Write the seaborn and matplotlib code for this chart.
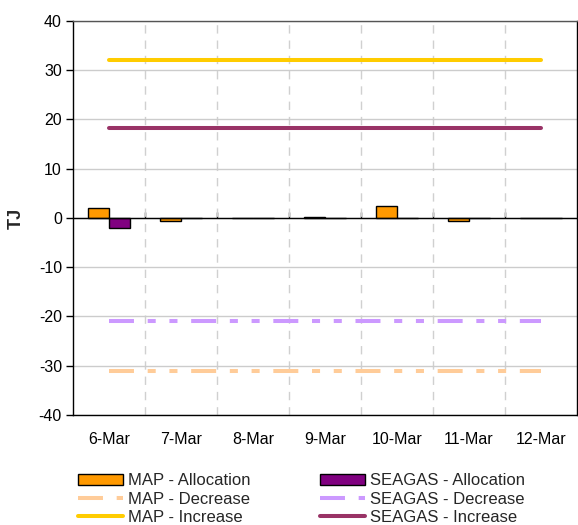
#%% import libraries
import numpy as np
import pandas as pd
import seaborn as sns
import matplotlib.pyplot as plt
from matplotlib.patches import Patch

#%% data
dates = ['6-Mar', '7-Mar', '8-Mar', '9-Mar', '10-Mar', '11-Mar', '12-Mar']
map_alloc = [2.0, -0.7, 0.0, 0.3, 2.5, -0.7, 0.0]
seagas_alloc = [-2.0, 0.0, 0.0, 0.0, 0.0, 0.0, 0.0]
map_decrease = [-31, -31, -31, -31, -31, -31, -31]
seagas_decrease = [-21, -21, -21, -21, -21, -21, -21]
map_increase = [32, 32, 32, 32, 32, 32, 32]
seagas_increase = [18.3, 18.3, 18.3, 18.3, 18.3, 18.3, 18.3]

#%% plot setup
sns.set_style("white")
plt.rcParams['font.family'] = ['Liberation Sans', 'DejaVu Sans']
plt.rcParams['font.size'] = 11
plt.rcParams['axes.unicode_minus'] = False

col_map = '#FF9900'
col_seagas = '#800080'
dash = (0, (6.2, 3.4, 2, 3.4, 2, 3.4))

df = pd.DataFrame({
    'date': dates * 2,
    'value': map_alloc + seagas_alloc,
    'series': ['MAP - Allocation'] * len(dates) + ['SEAGAS - Allocation'] * len(dates),
})

fig = plt.figure(figsize=(5.78, 5.25), dpi=100)
ax = fig.add_axes([73 / 578, 1 - 415 / 525, 504 / 578, 394 / 525])

sns.barplot(data=df, x='date', y='value', hue='series', order=dates,
            palette=[col_map, col_seagas], saturation=1, width=0.57, edgecolor='black',
            linewidth=1, legend=False, ax=ax, zorder=3)

x = np.arange(len(dates))
lw = 2.9
sns.lineplot(x=x, y=map_decrease, color='#FFCC99', linewidth=lw, linestyle=dash, ax=ax,
             label='MAP - Decrease', legend=False, zorder=4)
sns.lineplot(x=x, y=seagas_decrease, color='#CC99FF', linewidth=lw, linestyle=dash, ax=ax,
             label='SEAGAS - Decrease', legend=False, zorder=4)
sns.lineplot(x=x, y=map_increase, color='#FFCC00', linewidth=lw, ax=ax,
             label='MAP - Increase', legend=False, zorder=4)
sns.lineplot(x=x, y=seagas_increase, color='#993366', linewidth=lw, ax=ax,
             label='SEAGAS - Increase', legend=False, zorder=4)

#%% axes styling
ax.set_xlim(-0.5, len(dates) - 0.5)
ax.set_ylim(-40, 40)
ax.set_yticks(range(-40, 41, 10))
ax.set_xticks(x)
ax.set_xticklabels(dates)
ax.set_xticks(x[:-1] + 0.5, minor=True)
ax.tick_params(axis='x', which='both', length=0, pad=12, labelsize=11.5, colors='black')
ax.tick_params(axis='y', direction='out', length=5, width=1, pad=3, labelsize=11.5,
               colors='black', left=True)
ax.grid(axis='y', which='major', color='#CCCCCC', linewidth=1, zorder=0)
ax.grid(axis='x', which='minor', color='#D0D0D0', linewidth=1, linestyle=(0, (6, 5)), zorder=0)
ax.set_axisbelow(True)
ax.set_xlabel(None)
ax.set_ylabel('TJ', fontsize=13, fontweight='bold', labelpad=10)
for name, sp in ax.spines.items():
    sp.set_visible(True)
    sp.set_linewidth(1)
    sp.set_color('black')
ax.spines['top'].set_color('#555555')

# zero axis with boundary ticks
ax.axhline(0, color='black', linewidth=1, zorder=5)
zax = ax.secondary_xaxis(0.5)
zax.set_xticks(x[:-1] + 0.5)
zax.tick_params(axis='x', direction='out', length=4, width=1, labelbottom=False,
                labeltop=False, colors='black')
zax.spines['bottom'].set_visible(False)
zax.spines['top'].set_visible(False)

#%% legend
lines = {l.get_label(): l for l in ax.get_lines()}
handles = [
    Patch(facecolor=col_map, edgecolor='black', linewidth=1),
    lines['MAP - Decrease'], lines['MAP - Increase'],
    Patch(facecolor=col_seagas, edgecolor='black', linewidth=1),
    lines['SEAGAS - Decrease'], lines['SEAGAS - Increase'],
]
labels = ['MAP - Allocation', 'MAP - Decrease', 'MAP - Increase',
          'SEAGAS - Allocation', 'SEAGAS - Decrease', 'SEAGAS - Increase']
fig.legend(handles, labels, ncol=2, loc='upper left', bbox_to_anchor=(70 / 578, 1 - 465 / 525),
           frameon=False, fontsize=12, borderpad=0, handlelength=2.7, handletextpad=0.3,
           labelspacing=0.2, columnspacing=4.15, handleheight=0.7)

plt.savefig('out.png', dpi=100)
